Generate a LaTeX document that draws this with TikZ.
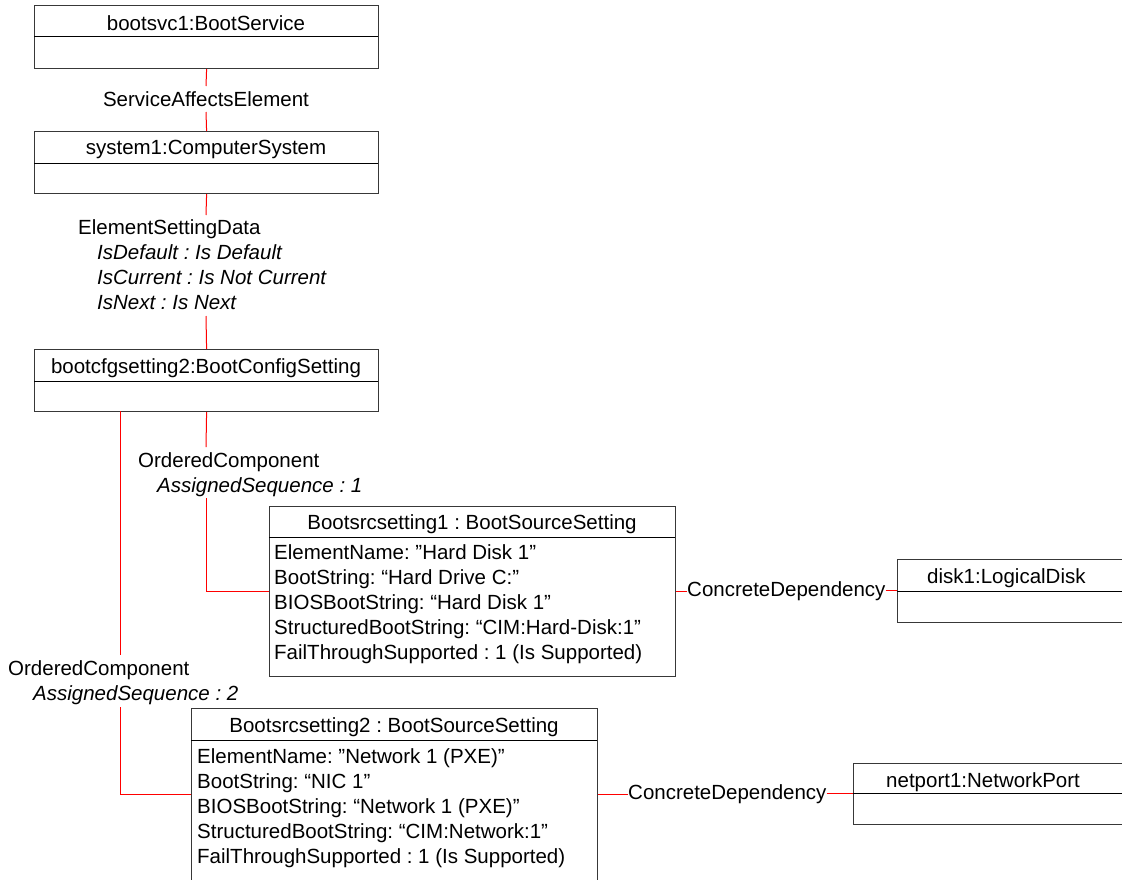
\documentclass[tikz,border=0pt]{standalone}
\usepackage{fontspec}
\setmainfont{Liberation Sans}
\frenchspacing
\begin{document}
\begin{tikzpicture}[x=1pt,y=-1pt,
  every node/.style={inner sep=0pt, font=\fontsize{20.5}{25}\selectfont},
  umlbox/.style={draw=black!78, line width=1.2pt, fill=white, rectangle, anchor=north west},
  divider/.style={draw=black, line width=1pt},
  assoc/.style={draw=red, line width=1pt},
  txt/.style={anchor=base west},
  ttl/.style={anchor=base},
  ital/.style={anchor=base west, font=\fontsize{20.5}{25}\selectfont\itshape}]

\useasboundingbox (0,0) rectangle (1122,879);
\fill[white] (0,0) rectangle (1122,879);
\clip (0,0) rectangle (1122,879);

% ---- class boxes ----
\node[umlbox, minimum width=344pt, minimum height=63pt] (bootsvc) at (34,5) {};
\draw[divider] (34,36) -- (378,36);
\node[ttl] (bootsvc-t) at (206,30.5) {bootsvc1:BootService};

\node[umlbox, minimum width=344pt, minimum height=62pt] (sys) at (34,131) {};
\draw[divider] (34,163) -- (378,163);
\node[ttl] (sys-t) at (206,154) {system1:ComputerSystem};

\node[umlbox, minimum width=344pt, minimum height=62pt] (cfg) at (34,349) {};
\draw[divider] (34,381) -- (378,381);
\node[ttl] (cfg-t) at (206,373) {bootcfgsetting2:BootConfigSetting};

\node[umlbox, minimum width=406pt, minimum height=170pt] (bs1) at (269,506) {};
\draw[divider] (269,537) -- (675,537);
\node[ttl] (bs1-t) at (472,529) {Bootsrcsetting1 : BootSourceSetting};
\node[txt] (bs1-a1) at (274,559) {ElementName: ”Hard Disk 1”};
\node[txt] (bs1-a2) at (274,584) {BootString: “Hard Drive C:”};
\node[txt] (bs1-a3) at (274,609) {BIOSBootString: “Hard Disk 1”};
\node[txt] (bs1-a4) at (274,634) {StructuredBootString: “CIM:Hard-Disk:1”};
\node[txt] (bs1-a5) at (274,659) {FailThroughSupported : 1 (Is Supported)};

\node[umlbox, minimum width=406pt, minimum height=172pt] (bs2) at (191,708) {};
\draw[divider] (191,740) -- (597,740);
\node[ttl] (bs2-t) at (394,732) {Bootsrcsetting2 : BootSourceSetting};
\node[txt] (bs2-a1) at (197,763) {ElementName: ”Network 1 (PXE)”};
\node[txt] (bs2-a2) at (197,788) {BootString: “NIC 1”};
\node[txt] (bs2-a3) at (197,813) {BIOSBootString: “Network 1 (PXE)”};
\node[txt] (bs2-a4) at (197,838) {StructuredBootString: “CIM:Network:1”};
\node[txt] (bs2-a5) at (197,863) {FailThroughSupported : 1 (Is Supported)};

\node[umlbox, minimum width=260pt, minimum height=63pt] (disk) at (897,559) {};
\draw[divider] (897,591) -- (1160,591);
\node[txt] (disk-t) at (927,583) {disk1:LogicalDisk};

\node[umlbox, minimum width=300pt, minimum height=61pt] (net) at (853,763) {};
\draw[divider] (853,793) -- (1160,793);
\node[txt] (net-t) at (886,787) {netport1:NetworkPort};

% ---- association labels ----
\node[ttl] (sae) at (206,106) {ServiceAffectsElement};
\node[txt] (esd) at (78,234) {ElementSettingData};
\node[ital] (esd-1) at (97,259) {IsDefault : Is Default};
\node[ital] (esd-2) at (97,284) {IsCurrent : Is Not Current};
\node[ital] (esd-3) at (97,309) {IsNext : Is Next};
\node[txt] (oc1) at (138,467) {OrderedComponent};
\node[ital] (oc1-s) at (157,492) {AssignedSequence : 1};
\node[txt] (oc2) at (8,675) {OrderedComponent};
\node[ital] (oc2-s) at (33,700) {AssignedSequence : 2};
\node[txt] (cd1) at (687,596) {ConcreteDependency};
\node[txt] (cd2) at (628,799) {ConcreteDependency};

% ---- connector gap ends around the labels ----
\coordinate (sae-a) at (206,86);
\coordinate (sae-b) at (206,112);
\coordinate (esd-a) at (206,215);
\coordinate (esd-b) at (206,316);
\coordinate (oc1-a) at (206,447);
\coordinate (oc1-b) at (206,498);
\coordinate (cfg-l) at (120,411);
\coordinate (oc2-a) at (120,655);
\coordinate (oc2-b) at (120,707);

% ---- connectors ----
\draw[assoc] (bootsvc.south) -- (sae-a);
\draw[assoc] (sae-b) -- (sys.north);
\draw[assoc] (sys.south) -- (esd-a);
\draw[assoc] (esd-b) -- (cfg.north);
\draw[assoc] (cfg.south) -- (oc1-a);
\draw[assoc] (oc1-b) |- (bs1.west);
\draw[assoc] (cfg-l) -- (oc2-a);
\draw[assoc] (oc2-b) |- (bs2.west);
\draw[assoc] (bs1.east) -- (bs1.east -| cd1.west);
\draw[assoc] (cd1.east) -- (cd1.east -| disk.west);
\draw[assoc] (bs2.east) -- (bs2.east -| cd2.west);
\draw[assoc] (cd2.east) -- (cd2.east -| net.west);
\end{tikzpicture}
\end{document}
